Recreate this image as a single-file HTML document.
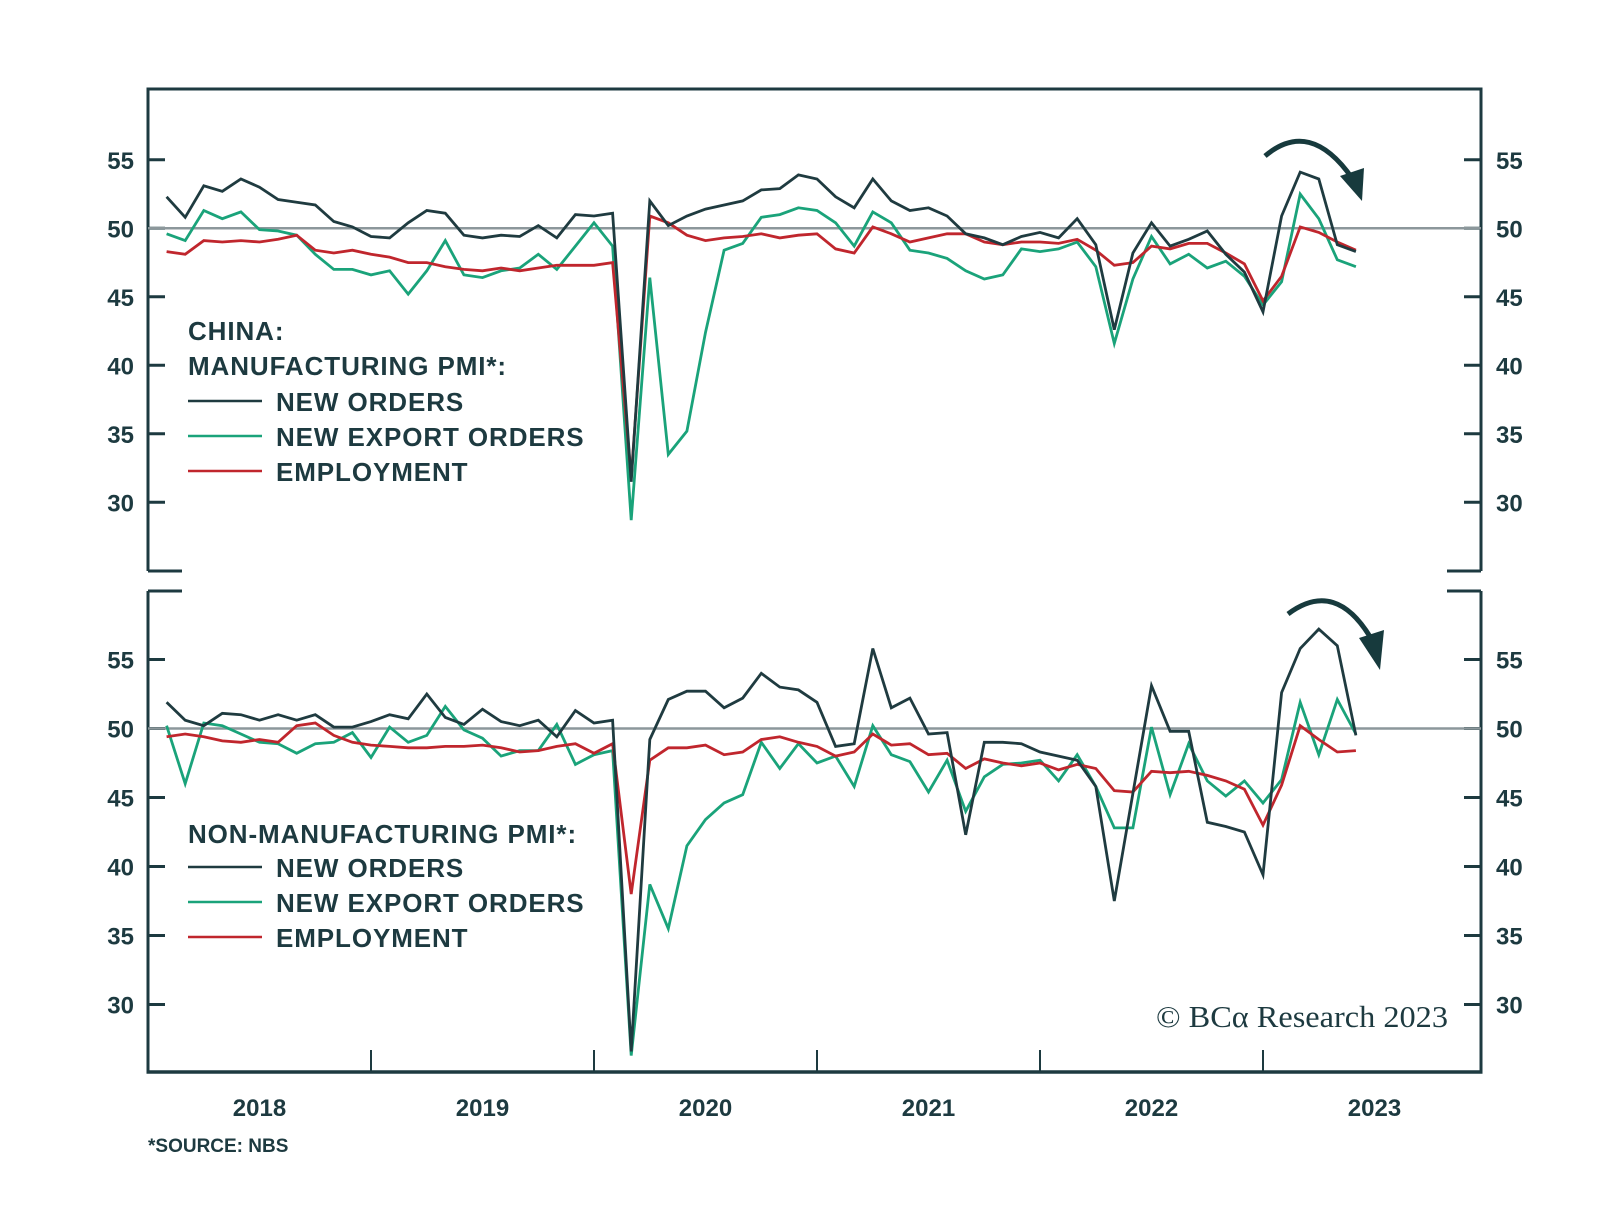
<!DOCTYPE html>
<html><head><meta charset="utf-8">
<style>
html,body{margin:0;padding:0;background:#fff;}
svg{display:block;}
text{font-family:"Liberation Sans",sans-serif;}
.lg{font-size:26px;font-weight:bold;fill:#1d3a40;letter-spacing:0.9px;}
</style></head>
<body>
<svg id="chart" width="1600" height="1228" viewBox="0 0 1600 1228" xmlns="http://www.w3.org/2000/svg">
<g id="frame"></g>
<g id="plots"></g>
<g id="legend-top">
  <text x="188" y="340" class="lg">CHINA:</text>
  <text x="188" y="375" class="lg">MANUFACTURING PMI*:</text>
  <line x1="188" y1="401" x2="262" y2="401" stroke="#1f3b40" stroke-width="2.5"/>
  <text x="276" y="411" class="lg">NEW ORDERS</text>
  <line x1="188" y1="436" x2="262" y2="436" stroke="#1aa37a" stroke-width="2.5"/>
  <text x="276" y="446" class="lg">NEW EXPORT ORDERS</text>
  <line x1="188" y1="471" x2="262" y2="471" stroke="#c0262d" stroke-width="2.5"/>
  <text x="276" y="481" class="lg">EMPLOYMENT</text>
</g>
<g id="legend-bottom">
  <text x="188" y="843" class="lg">NON-MANUFACTURING PMI*:</text>
  <line x1="188" y1="867" x2="262" y2="867" stroke="#1f3b40" stroke-width="2.5"/>
  <text x="276" y="877" class="lg">NEW ORDERS</text>
  <line x1="188" y1="902" x2="262" y2="902" stroke="#1aa37a" stroke-width="2.5"/>
  <text x="276" y="912" class="lg">NEW EXPORT ORDERS</text>
  <line x1="188" y1="937" x2="262" y2="937" stroke="#c0262d" stroke-width="2.5"/>
  <text x="276" y="947" class="lg">EMPLOYMENT</text>
</g>
<text x="1156" y="1027" textLength="292" lengthAdjust="spacingAndGlyphs" font-size="31" fill="#1d3a40" style="font-family:'Liberation Serif',serif">© BCα Research 2023</text>
<text x="148" y="1152" font-size="19" font-weight="bold" fill="#1d3a40">*SOURCE: NBS</text>
<g>
  <path d="M1265,156 Q1310,118 1352,178" fill="none" stroke="#173a3d" stroke-width="5"/>
  <polygon points="1340,176 1364,168 1362,201" fill="#173a3d"/>
</g>
<g>
  <path d="M1288,614 Q1336,578 1372,640" fill="none" stroke="#173a3d" stroke-width="5"/>
  <polygon points="1359,638 1384,630 1380,670" fill="#173a3d"/>
</g>
</svg>
<script>
const yearLabels = ["2018","2019","2020","2021","2022","2023"];
const yTicks = [30,35,40,45,50,55];
// monthly Jan 2018 .. May 2023
const mfgNewOrders = [52.3,50.8,53.1,52.7,53.6,53.0,52.1,51.9,51.7,50.5,50.1,49.4,49.3,50.4,51.3,51.1,49.5,49.3,49.5,49.4,50.2,49.3,51.0,50.9,51.1,31.5,52.0,50.2,50.9,51.4,51.7,52.0,52.8,52.9,53.9,53.6,52.3,51.5,53.6,52.0,51.3,51.5,50.9,49.6,49.3,48.8,49.4,49.7,49.3,50.7,48.8,42.6,48.2,50.4,48.7,49.2,49.8,48.1,46.8,43.9,50.9,54.1,53.6,48.8,48.3];
const mfgExportOrders = [49.6,49.1,51.3,50.7,51.2,49.9,49.8,49.5,48.1,47.0,47.0,46.6,46.9,45.2,46.9,49.1,46.6,46.4,46.9,47.1,48.1,47.0,48.7,50.4,48.7,28.7,46.4,33.5,35.2,42.4,48.4,48.9,50.8,51.0,51.5,51.3,50.4,48.7,51.2,50.4,48.4,48.2,47.8,46.9,46.3,46.6,48.5,48.3,48.5,49.0,47.2,41.6,46.3,49.4,47.4,48.1,47.1,47.6,46.5,44.4,46.1,52.5,50.7,47.7,47.2];
const mfgEmployment = [48.3,48.1,49.1,49.0,49.1,49.0,49.2,49.5,48.4,48.2,48.4,48.1,47.9,47.5,47.5,47.2,47.0,46.9,47.1,46.9,47.1,47.3,47.3,47.3,47.5,31.8,50.9,50.4,49.5,49.1,49.3,49.4,49.6,49.3,49.5,49.6,48.5,48.2,50.1,49.6,49.0,49.3,49.6,49.6,49.0,48.8,49.0,49.0,48.9,49.2,48.4,47.3,47.5,48.7,48.5,48.9,48.9,48.2,47.4,44.7,46.5,50.1,49.7,49.0,48.4];
const nmNewOrders = [51.9,50.6,50.2,51.1,51.0,50.6,51.0,50.6,51.0,50.1,50.1,50.5,51.0,50.7,52.5,50.8,50.3,51.4,50.5,50.2,50.6,49.4,51.3,50.4,50.6,26.6,49.2,52.1,52.7,52.7,51.5,52.2,54.0,53.0,52.8,51.9,48.7,48.9,55.8,51.5,52.2,49.6,49.7,42.3,49.0,49.0,48.9,48.3,48.0,47.7,45.8,37.5,45.3,53.1,49.8,49.8,43.2,42.9,42.5,39.4,52.6,55.8,57.2,56.0,49.5];
const nmExportOrders = [50.2,46.0,50.4,50.2,49.6,49.0,48.9,48.2,48.9,49.0,49.7,47.9,50.1,49.0,49.5,51.6,49.9,49.3,48.0,48.4,48.4,50.3,47.4,48.1,48.4,26.3,38.7,35.5,41.5,43.4,44.6,45.2,49.0,47.1,48.9,47.5,48.0,45.8,50.2,48.1,47.6,45.4,47.7,44.0,46.5,47.4,47.5,47.7,46.2,48.1,45.8,42.8,42.8,50.1,45.2,48.9,46.2,45.1,46.2,44.6,46.3,51.9,48.1,52.1,49.6];
const nmEmployment = [49.4,49.6,49.4,49.1,49.0,49.2,49.0,50.2,50.4,49.5,49.0,48.8,48.7,48.6,48.6,48.7,48.7,48.8,48.6,48.3,48.4,48.7,48.9,48.2,48.9,38.0,47.7,48.6,48.6,48.8,48.1,48.3,49.2,49.4,49.0,48.7,48.0,48.3,49.6,48.8,48.9,48.1,48.2,47.1,47.8,47.5,47.3,47.5,47.0,47.4,47.1,45.5,45.4,46.9,46.8,46.9,46.6,46.2,45.6,43.0,45.9,50.2,49.2,48.3,48.4];

const NS='http://www.w3.org/2000/svg';
const X0=148, X1=1481, PX_MONTH=223/12;
const C_DARK='#1f3b40', C_GREEN='#1aa37a', C_RED='#c0262d', C_AXIS='#1d3a40';
const panels=[
  {top:89,bottom:571,y50:228.3,ppu:13.7,name:'manufacturing',series:[[mfgExportOrders,C_GREEN,'line-mfg-new-export-orders'],[mfgEmployment,C_RED,'line-mfg-employment'],[mfgNewOrders,C_DARK,'line-mfg-new-orders']],first:true},
  {top:591,bottom:1072,y50:728.5,ppu:13.8,name:'non-manufacturing',series:[[nmExportOrders,C_GREEN,'line-nm-new-export-orders'],[nmEmployment,C_RED,'line-nm-employment'],[nmNewOrders,C_DARK,'line-nm-new-orders']],first:false}
];
function xScale(i){return X0+(i+1)*PX_MONTH;}
function mk(tag,attrs,parent){const e=document.createElementNS(NS,tag);for(const k in attrs)e.setAttribute(k,attrs[k]);parent.appendChild(e);return e;}
const frame=document.getElementById('frame');
const plots=document.getElementById('plots');
panels.forEach(p=>{
  const yS=v=>p.y50-(v-50)*p.ppu;
  const g=mk('g',{},frame);
  
  
  mk('line',{x1:X0,y1:p.top,x2:X0,y2:p.bottom,stroke:C_AXIS,'stroke-width':3},g);
  mk('line',{x1:X1,y1:p.top,x2:X1,y2:p.bottom,stroke:C_AXIS,'stroke-width':3},g);
  if(p.first){
    mk('line',{x1:X0-1.5,y1:p.top,x2:X1+1.5,y2:p.top,stroke:C_AXIS,'stroke-width':3},g);
    mk('line',{x1:X0,y1:p.bottom,x2:X0+34,y2:p.bottom,stroke:C_AXIS,'stroke-width':3},g);
    mk('line',{x1:X1-34,y1:p.bottom,x2:X1,y2:p.bottom,stroke:C_AXIS,'stroke-width':3},g);
  } else {
    mk('line',{x1:X0,y1:p.top,x2:X0+34,y2:p.top,stroke:C_AXIS,'stroke-width':3},g);
    mk('line',{x1:X1-34,y1:p.top,x2:X1,y2:p.top,stroke:C_AXIS,'stroke-width':3},g);
    mk('line',{x1:X0-1.5,y1:p.bottom,x2:X1+1.5,y2:p.bottom,stroke:C_AXIS,'stroke-width':3.5},g);
    for(let k=1;k<yearLabels.length;k++){
      const x=X0+k*223;
      mk('line',{x1:x,y1:p.bottom,x2:x,y2:p.bottom-22,stroke:C_AXIS,'stroke-width':2},g);
    }
    yearLabels.forEach((lab,k)=>{
      const t=mk('text',{x:X0+k*223+111.5,y:p.bottom+44,'text-anchor':'middle','font-size':24,'font-weight':'bold',fill:C_AXIS},g);
      
      
      t.textContent=lab;
    });
  }
  const ref=mk('line',{x1:X0,y1:yS(50),x2:X1,y2:yS(50),stroke:'#8c979b','stroke-width':2.5},plots);
  
  
  yTicks.forEach(v=>{
    const y=yS(v);
    mk('line',{x1:X0,y1:y,x2:X0+17,y2:y,stroke:C_AXIS,'stroke-width':3},g);
    mk('line',{x1:X1-17,y1:y,x2:X1,y2:y,stroke:C_AXIS,'stroke-width':3},g);
    const tl=mk('text',{x:134,y:y+9,'text-anchor':'end','font-size':24,'font-weight':'bold',fill:C_AXIS},g);
    
    
    tl.textContent=v;
    const tr=mk('text',{x:1496,y:y+9,'text-anchor':'start','font-size':24,'font-weight':'bold',fill:C_AXIS},g);
    
    
    tr.textContent=v;
  });
  p.series.forEach(([vals,col,nm])=>{
    const d=vals.map((v,i)=>(i?'L':'M')+xScale(i).toFixed(1)+','+yS(v).toFixed(1)).join(' ');
    const path=mk('path',{d:d,fill:'none',stroke:col,'stroke-width':2.8,'stroke-linejoin':'miter','stroke-miterlimit':4},plots);
    
    
  });
});
</script>
</body></html>
